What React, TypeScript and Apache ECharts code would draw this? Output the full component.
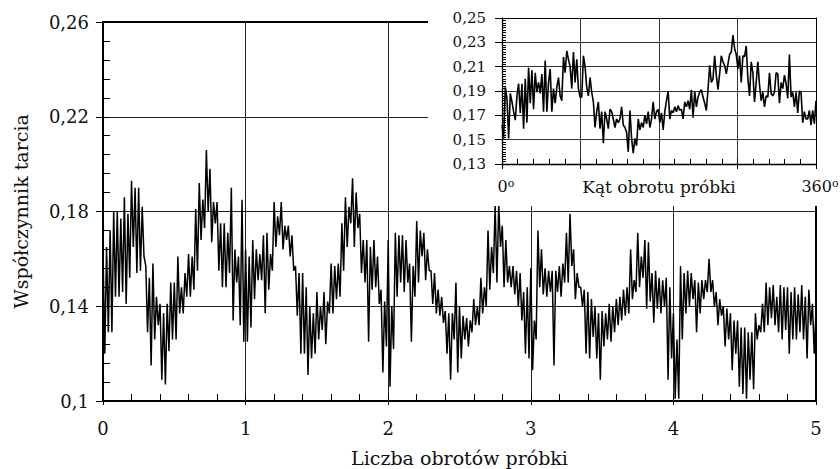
import React, { useEffect, useRef } from 'react';
import * as echarts from 'echarts';

// Main chart: friction coefficient vs number of sample revolutions (0..5)
const revolutionsMax = 5;
const mainXTickLabels = ['0', '1', '2', '3', '4', '5'];
const mainYTickValues = [0.1, 0.14, 0.18, 0.22, 0.26];
const mainYTickLabels = ['0,1', '0,14', '0,18', '0,22', '0,26'];

const mainFriction = [
  0.164, 0.120, 0.165, 0.129, 0.172, 0.129, 0.180, 0.144,
  0.180, 0.144, 0.177, 0.146, 0.186, 0.141, 0.179, 0.152,
  0.193, 0.165, 0.190, 0.154, 0.190, 0.155, 0.182, 0.161,
  0.157, 0.129, 0.152, 0.115, 0.158, 0.126, 0.144, 0.132,
  0.141, 0.109, 0.137, 0.107, 0.141, 0.121, 0.150, 0.126,
  0.150, 0.126, 0.161, 0.137, 0.148, 0.137, 0.154, 0.144,
  0.162, 0.144, 0.161, 0.147, 0.181, 0.155, 0.192, 0.168,
  0.185, 0.173, 0.206, 0.180, 0.198, 0.167, 0.184, 0.175,
  0.184, 0.155, 0.175, 0.148, 0.175, 0.148, 0.171, 0.154,
  0.190, 0.134, 0.164, 0.150, 0.161, 0.132, 0.185, 0.125,
  0.164, 0.125, 0.161, 0.131, 0.168, 0.143, 0.164, 0.151,
  0.162, 0.151, 0.170, 0.137, 0.171, 0.147, 0.162, 0.155,
  0.184, 0.165, 0.178, 0.170, 0.184, 0.164, 0.174, 0.168,
  0.174, 0.161, 0.170, 0.155, 0.157, 0.136, 0.154, 0.120,
  0.154, 0.120, 0.148, 0.111, 0.140, 0.118, 0.137, 0.120,
  0.146, 0.126, 0.140, 0.130, 0.146, 0.124, 0.142, 0.137,
  0.158, 0.137, 0.157, 0.143, 0.158, 0.144, 0.175, 0.155,
  0.186, 0.165, 0.182, 0.175, 0.194, 0.165, 0.188, 0.173,
  0.179, 0.154, 0.168, 0.150, 0.168, 0.125, 0.165, 0.147,
  0.168, 0.148, 0.161, 0.141, 0.147, 0.112, 0.142, 0.123,
  0.168, 0.106, 0.140, 0.122, 0.171, 0.144, 0.170, 0.150,
  0.170, 0.146, 0.168, 0.150, 0.158, 0.125, 0.157, 0.144,
  0.176, 0.150, 0.172, 0.161, 0.171, 0.151, 0.164, 0.155,
  0.155, 0.141, 0.154, 0.137, 0.147, 0.136, 0.144, 0.133,
  0.138, 0.120, 0.137, 0.109, 0.137, 0.126, 0.150, 0.112,
  0.140, 0.118, 0.136, 0.126, 0.135, 0.123, 0.134, 0.129,
  0.143, 0.132, 0.140, 0.132, 0.152, 0.137, 0.148, 0.140,
  0.172, 0.147, 0.165, 0.154, 0.183, 0.150, 0.183, 0.165,
  0.174, 0.148, 0.168, 0.150, 0.157, 0.148, 0.157, 0.145,
  0.155, 0.140, 0.154, 0.134, 0.146, 0.120, 0.148, 0.118,
  0.156, 0.113, 0.134, 0.126, 0.172, 0.148, 0.164, 0.145,
  0.156, 0.144, 0.155, 0.146, 0.155, 0.115, 0.155, 0.146,
  0.157, 0.144, 0.158, 0.150, 0.171, 0.150, 0.179, 0.157,
  0.164, 0.143, 0.154, 0.148, 0.148, 0.140, 0.147, 0.120,
  0.146, 0.118, 0.143, 0.127, 0.140, 0.118, 0.137, 0.109,
  0.138, 0.123, 0.137, 0.126, 0.141, 0.125, 0.140, 0.129,
  0.143, 0.132, 0.144, 0.134, 0.147, 0.136, 0.148, 0.137,
  0.164, 0.143, 0.151, 0.146, 0.171, 0.148, 0.161, 0.152,
  0.168, 0.139, 0.167, 0.142, 0.154, 0.133, 0.155, 0.139,
  0.152, 0.137, 0.151, 0.140, 0.152, 0.109, 0.148, 0.118,
  0.137, 0.101, 0.126, 0.101, 0.157, 0.126, 0.154, 0.137,
  0.155, 0.140, 0.154, 0.143, 0.151, 0.129, 0.150, 0.137,
  0.151, 0.143, 0.151, 0.146, 0.160, 0.146, 0.151, 0.140,
  0.146, 0.132, 0.143, 0.136, 0.140, 0.123, 0.139, 0.126,
  0.137, 0.113, 0.134, 0.120, 0.134, 0.106, 0.131, 0.103,
  0.131, 0.101, 0.129, 0.109, 0.129, 0.105, 0.137, 0.126,
  0.132, 0.129, 0.141, 0.129, 0.150, 0.132, 0.148, 0.135,
  0.149, 0.132, 0.144, 0.129, 0.149, 0.126, 0.148, 0.130,
  0.148, 0.120, 0.146, 0.126, 0.148, 0.126, 0.145, 0.129,
  0.149, 0.126, 0.144, 0.118, 0.147, 0.132, 0.141, 0.120,
  0.138,
];

// Inset: friction coefficient vs rotation angle of the sample (0..360 deg)
const angleMax = 360;
const insetXTickValues = [0, 360];
const insetXTickLabels = ['0', '360'];
const insetYTickValues = [0.13, 0.15, 0.17, 0.19, 0.21, 0.23, 0.25];
const insetYTickLabels = ['0,13', '0,15', '0,17', '0,19', '0,21', '0,23', '0,25'];

const insetFriction = [
  0.162, 0.151, 0.193, 0.184, 0.151, 0.188, 0.181, 0.173, 0.166, 0.186,
  0.196, 0.172, 0.196, 0.159, 0.200, 0.164, 0.209, 0.180, 0.207, 0.175,
  0.205, 0.189, 0.197, 0.188, 0.204, 0.173, 0.215, 0.173, 0.197, 0.208,
  0.173, 0.192, 0.180, 0.193, 0.201, 0.186, 0.182, 0.218, 0.205, 0.223,
  0.216, 0.210, 0.192, 0.222, 0.197, 0.216, 0.192, 0.185, 0.185, 0.219,
  0.210, 0.193, 0.186, 0.201, 0.189, 0.181, 0.160, 0.173, 0.181, 0.159,
  0.173, 0.147, 0.173, 0.167, 0.159, 0.175, 0.173, 0.167, 0.160, 0.167,
  0.164, 0.167, 0.177, 0.162, 0.160, 0.156, 0.140, 0.174, 0.151, 0.139,
  0.151, 0.145, 0.167, 0.158, 0.164, 0.160, 0.170, 0.163, 0.173, 0.160,
  0.167, 0.181, 0.167, 0.173,
  0.175, 0.164, 0.172, 0.158, 0.173, 0.182, 0.190, 0.167, 0.174, 0.172,
  0.177, 0.173, 0.178, 0.174, 0.175, 0.167, 0.181, 0.177, 0.182, 0.175,
  0.191, 0.168, 0.190, 0.177, 0.185, 0.189, 0.191, 0.185, 0.180, 0.174,
  0.191, 0.211, 0.197, 0.200, 0.219, 0.203, 0.191, 0.204, 0.219, 0.214,
  0.211, 0.204, 0.212, 0.220, 0.222, 0.236, 0.225, 0.220, 0.208, 0.219,
  0.197, 0.219, 0.218, 0.227, 0.200, 0.186, 0.214, 0.205, 0.181, 0.197,
  0.214, 0.195, 0.182, 0.189, 0.177, 0.186, 0.185, 0.205, 0.188, 0.186,
  0.189, 0.205, 0.204, 0.180, 0.197, 0.192, 0.203, 0.196, 0.184, 0.220,
  0.185, 0.189, 0.177, 0.189, 0.172, 0.190, 0.189, 0.164, 0.173, 0.167,
  0.167, 0.174, 0.162, 0.174, 0.163, 0.182,
];

const FONT = 'DejaVu Serif';
const TEXT = '#111';

export default function App() {
  const ref = useRef<HTMLDivElement>(null);

  useEffect(() => {
    if (!ref.current) return;
    const chart = echarts.init(ref.current, null, { renderer: 'svg' });

    const mainData = mainFriction.map((v, i) => [(i * revolutionsMax) / (mainFriction.length - 1), v]);
    const insetData = insetFriction.map((v, i) => [(i * angleMax) / (insetFriction.length - 1), v]);

    const lookup = (values: number[], labels: string[]) => (v: number) => {
      const idx = values.findIndex((t) => Math.abs(t - v) < 1e-6);
      return idx >= 0 ? labels[idx] : '';
    };

    // Axis that only draws a frame line (top / right sides of a plot)
    const frameAxis = (gridIndex: number, position: string, width: number, extra: any) => ({
      gridIndex, type: 'value', position, ...extra,
      axisLine: { show: true, onZero: false, lineStyle: { color: '#000', width } },
      axisTick: { show: false }, minorTick: { show: false },
      axisLabel: { show: false }, splitLine: { show: false },
    });
    // Axis that only draws short outside major ticks
    const outTickAxis = (gridIndex: number, position: string, length: number, extra: any) => ({
      gridIndex, type: 'value', position, ...extra,
      axisLine: { show: false, onZero: false },
      axisTick: { show: true, inside: false, length, lineStyle: { color: '#000', width: 1 } },
      minorTick: { show: false },
      axisLabel: { show: false }, splitLine: { show: false },
    });

    chart.setOption({
      animation: false,
      textStyle: { fontFamily: FONT, color: TEXT },
      grid: [
        { left: 103, right: 24, top: 22, bottom: 68, show: false, containLabel: false, outerBoundsMode: 'none' },
        { left: 502, right: 24, top: 18, bottom: 305, show: false, containLabel: false, outerBoundsMode: 'none' },
      ],
      graphic: [
        { type: 'rect', shape: { x: 428, y: 0, width: 412, height: 206 }, style: { fill: '#fff' }, z: 10, silent: true },
      ],
      xAxis: [
        {
          gridIndex: 0, type: 'value', min: 0, max: revolutionsMax, interval: 1, position: 'bottom',
          axisLine: { show: true, onZero: false, lineStyle: { color: '#000', width: 2 } },
          axisTick: { show: true, inside: true, length: 7, lineStyle: { color: '#000', width: 1 } },
          minorTick: { show: true, splitNumber: 5, length: 7, lineStyle: { color: '#000', width: 1 } },
          splitLine: { show: true, lineStyle: { color: '#222', width: 1 } },
          axisLabel: { margin: 18, fontSize: 18, fontFamily: FONT, color: TEXT, formatter: (v: number) => mainXTickLabels[Math.round(v)] ?? '' },
          name: 'Liczba obrotów próbki', nameLocation: 'middle', nameGap: 47, nameMoveOverlap: false,
          nameTextStyle: { fontSize: 19, fontFamily: FONT, color: TEXT },
        },
        frameAxis(0, 'top', 2, { min: 0, max: revolutionsMax, interval: 1 }),
        outTickAxis(0, 'bottom', 4, { min: 0, max: revolutionsMax, interval: 1 }),
        {
          gridIndex: 1, type: 'value', min: 0, max: angleMax, interval: 90, position: 'bottom', z: 25,
          axisLine: { show: true, onZero: false, lineStyle: { color: '#000', width: 1.3 } },
          axisTick: { show: true, inside: true, length: 5, lineStyle: { color: '#000', width: 1 } },
          minorTick: { show: true, splitNumber: 5, length: 5, lineStyle: { color: '#000', width: 1 } },
          splitLine: { show: true, lineStyle: { color: '#333', width: 1 } },
          axisLabel: {
            margin: 14, fontSize: 16, fontFamily: FONT, color: TEXT, padding: [0, 0, 0, 8],
            showMinLabel: true, showMaxLabel: true,
            formatter: (v: number) => {
              const t = lookup(insetXTickValues, insetXTickLabels)(v);
              return t ? `{n|${t}}{s|o}` : '';
            },
            rich: {
              n: { fontSize: 16, fontFamily: FONT, color: TEXT },
              s: { fontSize: 11, fontFamily: FONT, color: TEXT, verticalAlign: 'top' },
            },
          },
          name: 'Kąt obrotu próbki', nameLocation: 'middle', nameGap: 14, nameMoveOverlap: false,
          nameTextStyle: { fontSize: 17, fontFamily: FONT, color: TEXT },
        },
        frameAxis(1, 'top', 1, { min: 0, max: angleMax, interval: 90, z: 25 }),
        outTickAxis(1, 'bottom', 5, { min: 0, max: angleMax, interval: 90, z: 25 }),
      ],
      yAxis: [
        {
          gridIndex: 0, type: 'value', min: 0.1, max: 0.26, interval: 0.04, position: 'left',
          axisLine: { show: true, onZero: false, lineStyle: { color: '#000', width: 2 } },
          axisTick: { show: true, inside: true, length: 7, lineStyle: { color: '#000', width: 1 } },
          minorTick: { show: true, splitNumber: 5, length: 7, lineStyle: { color: '#000', width: 1 } },
          splitLine: { show: true, lineStyle: { color: '#222', width: 1 } },
          axisLabel: { margin: 14, fontSize: 18, fontFamily: FONT, color: TEXT, formatter: lookup(mainYTickValues, mainYTickLabels) },
          name: 'Współczynnik tarcia', nameLocation: 'middle', nameGap: 73, nameMoveOverlap: false,
          nameTextStyle: { fontSize: 19, fontFamily: FONT, color: TEXT },
        },
        frameAxis(0, 'right', 2, { min: 0.1, max: 0.26, interval: 0.04 }),
        outTickAxis(0, 'left', 7, { min: 0.1, max: 0.26, interval: 0.04 }),
        {
          gridIndex: 1, type: 'value', min: 0.13, max: 0.25, interval: 0.02, position: 'left', z: 25,
          axisLine: { show: true, onZero: false, lineStyle: { color: '#000', width: 1.3 } },
          axisTick: { show: true, inside: true, length: 4, lineStyle: { color: '#000', width: 1 } },
          minorTick: { show: true, splitNumber: 10, length: 4, lineStyle: { color: '#000', width: 1 } },
          splitLine: { show: true, lineStyle: { color: '#333', width: 1 } },
          axisLabel: { margin: 16, fontSize: 15, fontFamily: FONT, color: TEXT, formatter: lookup(insetYTickValues, insetYTickLabels) },
        },
        frameAxis(1, 'right', 1, { min: 0.13, max: 0.25, interval: 0.02, z: 25 }),
        outTickAxis(1, 'left', 7, { min: 0.13, max: 0.25, interval: 0.02, z: 25 }),
      ],
      series: [
        {
          type: 'line', xAxisIndex: 0, yAxisIndex: 0, data: mainData, symbol: 'none', showSymbol: false,
          lineStyle: { color: '#000', width: 1.5 }, z: 2, silent: true,
        },
        {
          type: 'line', xAxisIndex: 3, yAxisIndex: 3, data: insetData, symbol: 'none', showSymbol: false,
          lineStyle: { color: '#000', width: 1.6 }, z: 30, silent: true,
        },
      ],
    });

    return () => chart.dispose();
  }, []);

  return <div ref={ref} style={{ position: 'fixed', left: 0, top: 0, width: 840, height: 469, background: '#fff' }} />;
}
